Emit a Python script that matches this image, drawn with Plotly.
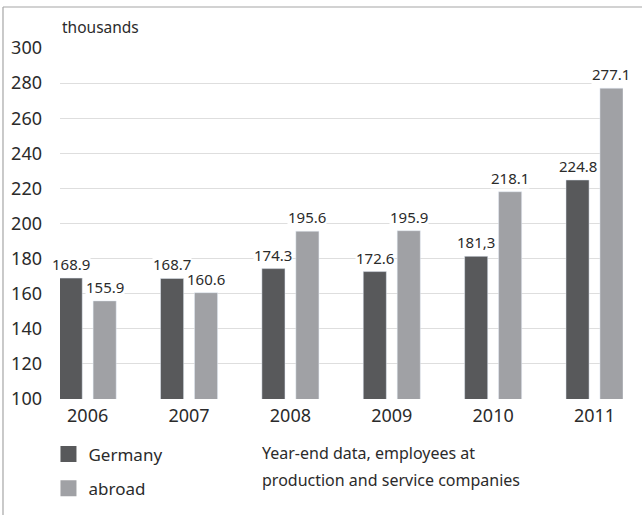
import plotly.graph_objects as go

years = ["2006", "2007", "2008", "2009", "2010", "2011"]
germany = [168.9, 168.7, 174.3, 172.6, 181.3, 224.8]
abroad = [155.9, 160.6, 195.6, 195.9, 218.1, 277.1]
germany_labels = ["168.9", "168.7", "174.3", "172.6", "181,3", "224.8"]
abroad_labels = ["155.9", "160.6", "195.6", "195.9", "218.1", "277.1"]
y_ticks = [100, 120, 140, 160, 180, 200, 220, 240, 260, 280, 300]

FONT = "Noto Sans"
TXT = "#2b2b2b"
C_DE = "#58595b"
C_AB = "#a0a1a5"

W, H = 642, 515
L, R, T, B = 60, 19, 48, 116
BARGAP = 0.33
SLOT = (1 - BARGAP) / 2

fig = go.Figure()
fig.add_trace(go.Bar(x=years, y=germany, name="Germany", marker_color=C_DE,
                     showlegend=False))
fig.add_trace(go.Bar(x=years, y=abroad, name="abroad", marker_color=C_AB,
                     showlegend=False))
# legend entries with large square swatches
fig.add_trace(go.Scatter(x=[None], y=[None], mode="markers", name="Germany",
                         marker=dict(symbol="square", size=19, color=C_DE),
                         legendgroup="g1"))
fig.add_trace(go.Scatter(x=[None], y=[None], mode="markers", name="abroad",
                         marker=dict(symbol="square", size=19, color=C_AB),
                         legendgroup="g2"))

annotations = []
for vals, labs, off in ((abroad, abroad_labels, SLOT / 2),
                        (germany, germany_labels, -SLOT / 2)):
    for i in range(len(years)):
        annotations.append(dict(x=i + off, y=vals[i], xref="x", yref="y", text=labs[i],
                                showarrow=False, yanchor="bottom", yshift=3,
                                bgcolor="white", borderpad=0,
                                font=dict(family=FONT, size=15, color=TXT)))

annotations.append(dict(x=0, y=1.0, xref="paper", yref="paper", text="thousands",
                        showarrow=False, xanchor="left", yanchor="middle", yshift=21,
                        font=dict(family=FONT, size=15.5, color=TXT)))
annotations.append(dict(x=0.3555, y=-0.1538, xref="paper", yref="paper",
                        text="Year-end data, employees at",
                        showarrow=False, xanchor="left", yanchor="middle",
                        font=dict(family=FONT, size=16, color=TXT)))
annotations.append(dict(x=0.3555, y=-0.2308, xref="paper", yref="paper",
                        text="production and service companies",
                        showarrow=False, xanchor="left", yanchor="middle",
                        font=dict(family=FONT, size=16, color=TXT)))

pw = W - L - R
ph = H - T - B
shapes = [
    dict(type="line", xref="paper", yref="paper", x0=(3 - L) / pw, x1=(W - L) / pw,
         y0=(H - B - 7) / ph, y1=(H - B - 7) / ph, line=dict(color="#a6a6a6", width=1.2)),
    dict(type="line", xref="paper", yref="paper", x0=(3 - L) / pw, x1=(3 - L) / pw,
         y0=(H - B - 7) / ph, y1=-(B) / ph, line=dict(color="#a6a6a6", width=1.2)),
]

fig.update_layout(
    width=W, height=H,
    margin=dict(l=L, r=R, t=T, b=B, autoexpand=False),
    paper_bgcolor="white", plot_bgcolor="white",
    barmode="group", bargap=BARGAP, bargroupgap=0.32,
    font=dict(family=FONT, color=TXT),
    annotations=annotations,
    shapes=shapes,
    legend=dict(x=0.0755, y=0.1524, xref="container", yref="container",
                xanchor="left", yanchor="top",
                font=dict(family=FONT, size=17, color=TXT),
                traceorder="grouped", tracegroupgap=9,
                bgcolor="rgba(0,0,0,0)", itemwidth=30),
    showlegend=True,
)
fig.update_xaxes(type="category", range=[-0.273, 5.281], showgrid=False,
                 showline=False, ticks="", zeroline=False, automargin=False,
                 ticklabelstandoff=4,
                 tickfont=dict(family=FONT, size=18, color=TXT))
fig.update_yaxes(range=[100, 300], tickvals=y_ticks, showgrid=True,
                 gridcolor="#dedede", gridwidth=1.2, zeroline=False, showline=False,
                 ticks="", ticklabelstandoff=17, automargin=False,
                 tickfont=dict(family=FONT, size=18, color=TXT))

fig.write_html(
    "out.html",
    config={"displayModeBar": False},
    post_script="document.body.style.margin='0';document.body.style.padding='0';",
)
